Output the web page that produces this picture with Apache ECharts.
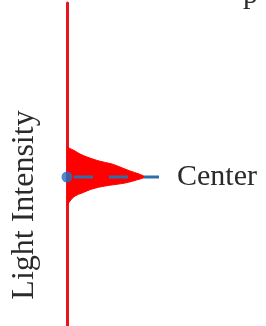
<!DOCTYPE html>
<html><head><meta charset="utf-8">
<script src="https://cdn.jsdelivr.net/npm/echarts@6/dist/echarts.min.js"></script>
<style>html,body{margin:0;padding:0;background:#fff}#c{width:266px;height:326px}</style>
</head><body><div id="c"></div>
<script>
// Peak profile: [intensity, position] (position 0 = center)
var peakIntensity = [0, 4, 8, 13, 20, 32, 45, 53, 63, 72, 78, 73, 58, 38, 25, 15, 8, 3, 0];
var peakPosition  = [30, 28, 26, 23, 20, 16, 13, 10, 6, 3, 0, -2, -6, -9, -12, -16, -19, -24, -29];
var centerIntensity = [0, 92];
var centerPosition = [0, 0];
var axisName = 'Light Intensity';
var centerLabel = 'Center';

var peak = peakIntensity.map(function (v, i) { return [v, peakPosition[i]]; });
var center = centerIntensity.map(function (v, i) { return [v, centerPosition[i]]; });

var chart = echarts.init(document.getElementById('c'));
chart.setOption({
  animation: false,
  grid: { left: 67, top: 3, width: 160, bottom: 0 },
  xAxis: { type: 'value', min: 0, max: 160, show: false },
  yAxis: {
    type: 'value', min: -149, max: 174,
    axisLine: { show: true, lineStyle: { color: '#e8161c', width: 3 } },
    axisTick: { show: false }, axisLabel: { show: false }, splitLine: { show: false }
  },
  graphic: [
    { type: 'text', x: 25, y: 205, rotation: Math.PI / 2,
      style: { text: axisName, font: '32px "Liberation Serif"', fill: '#2a2a2a',
               textAlign: 'center', textVerticalAlign: 'middle' } },
    { type: 'text', x: 243, y: 10,
      style: { text: 'p', font: '30px "Liberation Serif"', fill: '#2a2a2a',
               textAlign: 'left', textVerticalAlign: 'bottom' } }
  ],
  series: [
    { type: 'line', data: peak, smooth: 0.3, symbol: 'none',
      lineStyle: { color: '#ff0000', width: 1 },
      areaStyle: { color: '#ff0000', opacity: 1 }, z: 2 },
    { type: 'line', data: center, symbol: 'none',
      lineStyle: { color: '#2e6fa8', width: 3, type: [19, 16], dashOffset: 28 },
      endLabel: { show: true, formatter: centerLabel, distance: 18,
                  fontFamily: 'Liberation Serif', fontSize: 30, color: '#2a2a2a' }, z: 3 },
    { type: 'scatter', data: [center[0]], symbolSize: 11,
      itemStyle: { color: '#1f6fc2' }, z: 4 }
  ]
});
</script></body></html>
